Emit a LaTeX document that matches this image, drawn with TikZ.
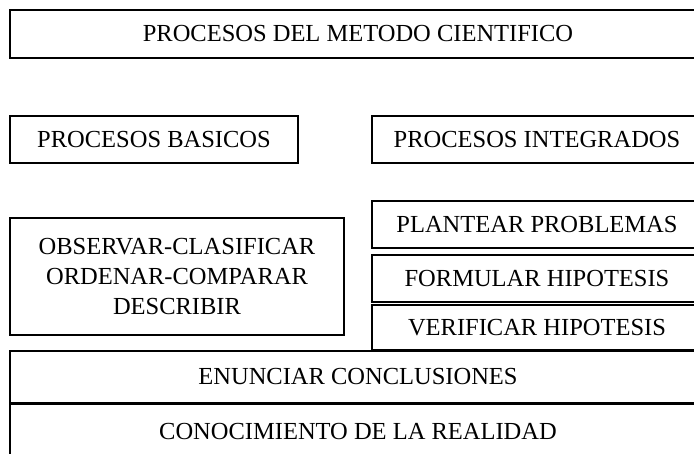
\documentclass[tikz,border=0pt]{standalone}
\usepackage{fontspec}
\setmainfont{Liberation Serif}
\begin{document}
\begin{tikzpicture}[x=1pt,y=-1pt,
  box/.style={draw=black, line width=1.2pt, rectangle, inner sep=0pt,
    font=\fontsize{24.5}{30}\selectfont, align=center}]
\useasboundingbox (0,0) rectangle (694,453);
\clip (0,0) rectangle (694,453);
\node[box, minimum width=696pt, minimum height=48pt] (title) at (358,34) {PROCESOS DEL METODO CIENTIFICO};
\node[box, minimum width=288pt, minimum height=47pt] (basicos) at (154,139.5) {PROCESOS BASICOS};
\node[box, minimum width=330pt, minimum height=47pt] (integ) at (537,139.5) {PROCESOS INTEGRADOS};
\node[box, minimum width=334pt, minimum height=117pt] (observ) at (177,276.5) {OBSERVAR-CLASIFICAR\\ORDENAR-COMPARAR\\DESCRIBIR};
\node[box, minimum width=330pt, minimum height=47pt] (plant) at (537,224.5) {PLANTEAR PROBLEMAS};
\node[box, minimum width=330pt, minimum height=47pt] (formu) at (537,278.5) {FORMULAR HIPOTESIS};
\node[box, minimum width=330pt, minimum height=45pt] (verif) at (537,327.5) {VERIFICAR HIPOTESIS};
\node[box, minimum width=696pt, minimum height=52pt] (enun) at (358,377) {ENUNCIAR CONCLUSIONES};
\node[box, minimum width=696pt, minimum height=57pt] (conoc) at (358,431.5) {CONOCIMIENTO DE LA REALIDAD};
\draw[line width=3pt] (enun.south west) -- (enun.south east);
\end{tikzpicture}
\end{document}
